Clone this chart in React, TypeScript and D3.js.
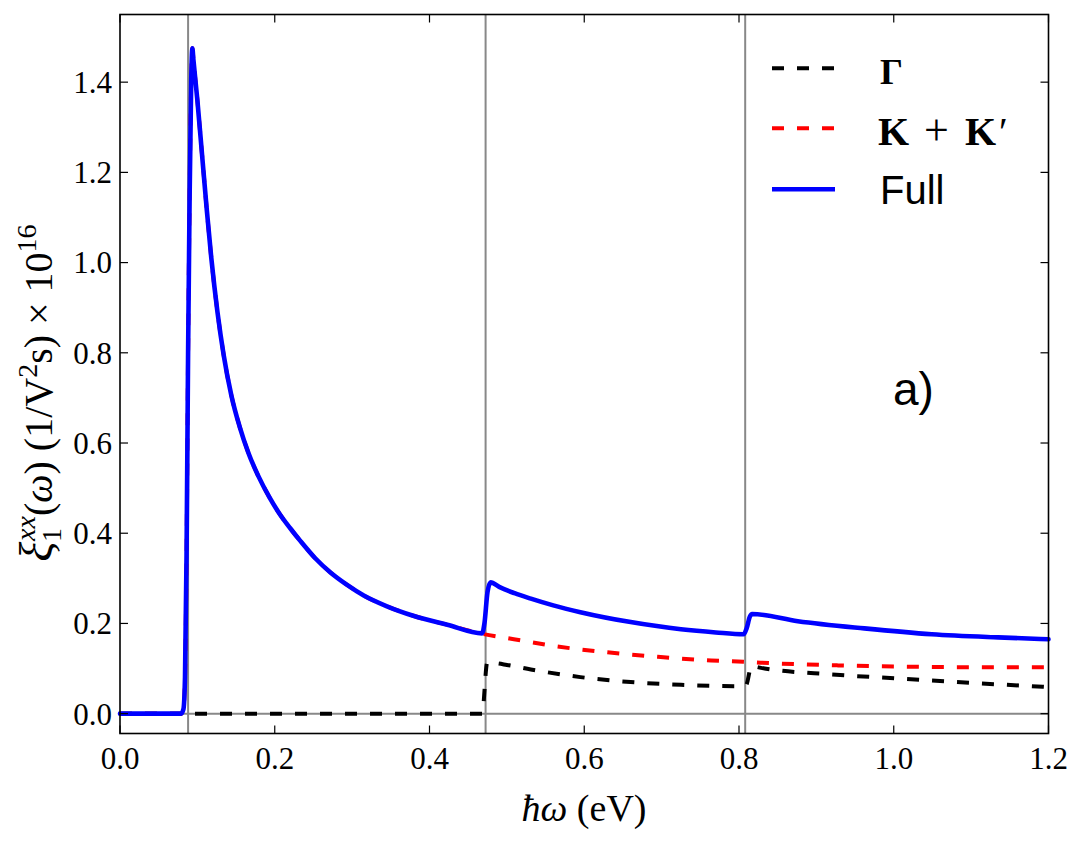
import { useEffect } from 'react';
import * as d3 from 'd3';

// photon energy (eV) and response, read per curve
const fullX = [0, 0.04, 0.079, 0.082, 0.084, 0.086, 0.088, 0.09, 0.092, 0.0935, 0.0949, 0.1, 0.106, 0.112, 0.118, 0.126, 0.134, 0.144, 0.1545, 0.166, 0.179, 0.193, 0.207, 0.22, 0.233, 0.252, 0.272, 0.293, 0.315, 0.345, 0.379, 0.423, 0.468, 0.471, 0.475, 0.479, 0.49, 0.51, 0.531, 0.56, 0.595, 0.66, 0.725, 0.77, 0.806, 0.81, 0.814, 0.817, 0.876, 0.962, 1.049, 1.135, 1.2];
const fullY = [0, 0, 0, 0.01, 0.08, 0.35, 0.8, 1.15, 1.4, 1.475, 1.449, 1.36, 1.24, 1.12, 1.01, 0.89, 0.795, 0.705, 0.637, 0.578, 0.526, 0.48, 0.441, 0.411, 0.383, 0.345, 0.313, 0.286, 0.262, 0.238, 0.217, 0.197, 0.178, 0.2, 0.27, 0.291, 0.281, 0.267, 0.255, 0.24, 0.225, 0.203, 0.187, 0.18, 0.176, 0.19, 0.215, 0.221, 0.205, 0.189, 0.176, 0.169, 0.165];

const kkX = [0, 0.04, 0.079, 0.082, 0.084, 0.086, 0.088, 0.09, 0.092, 0.0935, 0.0949, 0.1, 0.106, 0.112, 0.118, 0.126, 0.134, 0.144, 0.1545, 0.166, 0.179, 0.193, 0.207, 0.22, 0.233, 0.252, 0.272, 0.293, 0.315, 0.345, 0.379, 0.423, 0.468, 0.509, 0.565, 0.63, 0.695, 0.764, 0.806, 0.828, 0.928, 1.023, 1.118, 1.2];
const kkY = [0, 0, 0, 0.01, 0.08, 0.35, 0.8, 1.15, 1.4, 1.475, 1.449, 1.36, 1.24, 1.12, 1.01, 0.89, 0.795, 0.705, 0.637, 0.578, 0.526, 0.48, 0.441, 0.411, 0.383, 0.345, 0.313, 0.286, 0.262, 0.238, 0.217, 0.197, 0.177, 0.165, 0.149, 0.136, 0.126, 0.118, 0.115, 0.113, 0.107, 0.104, 0.103, 0.103];

const gammaX = [0, 0.468, 0.4746, 0.485, 0.5, 0.531, 0.595, 0.66, 0.725, 0.798, 0.809, 0.816, 0.833, 0.919, 1.005, 1.092, 1.2];
const gammaY = [0, 0, 0.113, 0.112, 0.108, 0.098, 0.081, 0.07, 0.064, 0.061, 0.063, 0.105, 0.1, 0.087, 0.078, 0.069, 0.059];

// band-edge markers
const edges = [0.088, 0.4725, 0.808];

const xTicks = [0, 0.2, 0.4, 0.6, 0.8, 1.0, 1.2];
const yTicks = [0, 0.2, 0.4, 0.6, 0.8, 1.0, 1.2, 1.4];

const W = 1085;
const H = 843;
const left = 120;
const right = 1048.5;
const top = 14.5;
const bottom = 733.5;

const serif = '"Liberation Serif", "DejaVu Serif", serif';
const sans = '"Liberation Sans", Arial, sans-serif';

const App = () => {
  useEffect(() => {
    document.body.style.margin = '0';
  }, []);

  const x = d3.scaleLinear().domain([0, 1.2]).range([left, right]);
  const y = d3.scaleLinear().domain([-0.044, 1.55]).range([bottom, top]);

  const line = d3
    .line<[number, number]>()
    .x(d => x(d[0]))
    .y(d => y(d[1]))
    .curve(d3.curveMonotoneX);

  const zip = (xs: number[], ys: number[]) => xs.map((v, i) => [v, ys[i]] as [number, number]);

  const series = [
    { name: 'gamma', pts: zip(gammaX, gammaY), color: '#000', dash: '12,13', width: 4 },
    { name: 'kk', pts: zip(kkX, kkY), color: '#ff0000', dash: '12,13', width: 4 },
    { name: 'full', pts: zip(fullX, fullY), color: '#0000ff', dash: null, width: 4.6 },
  ];

  const tickLen = 8;
  const legendRows = [68.3, 128.3, 189.3];

  return (
    <svg width={W} height={H} style={{ display: 'block', background: '#fff' }}>
      <rect width={W} height={H} fill="#fff" />

      {/* reference lines */}
      {edges.map(e => (
        <line key={e} x1={x(e)} x2={x(e)} y1={top} y2={bottom} stroke="#888" strokeWidth={2} />
      ))}
      <line x1={left} x2={right} y1={y(0)} y2={y(0)} stroke="#888" strokeWidth={2} />

      {/* curves */}
      {series.map(s => (
        <path
          key={s.name}
          d={line(s.pts) ?? ''}
          fill="none"
          stroke={s.color}
          strokeWidth={s.width}
          strokeDasharray={s.dash ?? undefined}
          strokeLinecap={s.dash ? 'butt' : 'round'}
          strokeLinejoin="round"
        />
      ))}

      {/* frame */}
      <rect x={left} y={top} width={right - left} height={bottom - top} fill="none" stroke="#000" strokeWidth={1.6} />

      {/* ticks, pointing inward on every side */}
      {xTicks.map(t => (
        <g key={'x' + t}>
          <line x1={x(t)} x2={x(t)} y1={bottom} y2={bottom - tickLen} stroke="#000" strokeWidth={1.2} />
          <line x1={x(t)} x2={x(t)} y1={top} y2={top + tickLen} stroke="#000" strokeWidth={1.2} />
          <text x={x(t)} y={769} textAnchor="middle" fontFamily={serif} fontSize={31} fill="#000">
            {t.toFixed(1)}
          </text>
        </g>
      ))}
      {yTicks.map(t => (
        <g key={'y' + t}>
          <line x1={left} x2={left + tickLen} y1={y(t)} y2={y(t)} stroke="#000" strokeWidth={1.2} />
          <line x1={right} x2={right - tickLen} y1={y(t)} y2={y(t)} stroke="#000" strokeWidth={1.2} />
          <text x={112} y={y(t)} dy="0.35em" textAnchor="end" fontFamily={serif} fontSize={31} fill="#000">
            {t.toFixed(1)}
          </text>
        </g>
      ))}

      {/* axis titles */}
      <text x={584} y={821} textAnchor="middle" fontFamily={serif} fontSize={38} fill="#000">
        <tspan fontStyle="italic">ħω</tspan>
        <tspan> (eV)</tspan>
      </text>
      <text transform="translate(52,393) rotate(-90)" textAnchor="middle" fontFamily={serif} fontSize={40} fill="#000">
        <tspan fontStyle="italic" fontSize={46}>ξ</tspan>
        <tspan fontSize={28} dy={9}>1</tspan>
        <tspan fontSize={28} fontStyle="italic" dx={-13} dy={-26}>xx</tspan>
        <tspan dy={17}>(</tspan>
        <tspan fontStyle="italic">ω</tspan>
        <tspan>)  (1/V</tspan>
        <tspan fontSize={28} dy={-15}>2</tspan>
        <tspan dy={15}>s)  ×  10</tspan>
        <tspan fontSize={28} dy={-16}>16</tspan>
      </text>

      {/* legend */}
      <line x1={772} x2={835} y1={legendRows[0]} y2={legendRows[0]} stroke="#000" strokeWidth={4} strokeDasharray="12,13" />
      <line x1={772} x2={835} y1={legendRows[1]} y2={legendRows[1]} stroke="#ff0000" strokeWidth={4} strokeDasharray="12,13" />
      <line x1={772} x2={835} y1={legendRows[2]} y2={legendRows[2]} stroke="#0000ff" strokeWidth={4.6} />
      <text x={880} y={legendRows[0] + 16} fontFamily={serif} fontWeight="bold" fontSize={36} fill="#000">Γ</text>
      <g fontFamily={serif} fontSize={40} fill="#000">
        <text x={878} y={legendRows[1] + 17} fontWeight="bold">K</text>
        <text x={924} y={legendRows[1] + 17} fontSize={44}>+</text>
        <text x={965} y={legendRows[1] + 17} fontWeight="bold">K</text>
        <text x={999} y={legendRows[1] + 17}>′</text>
      </g>
      <text x={880} y={legendRows[2] + 15} fontFamily={sans} fontSize={40} fill="#000">Full</text>

      <text x={893} y={405} fontFamily={sans} fontSize={46} fill="#000">a)</text>
    </svg>
  );
};

export default App;
